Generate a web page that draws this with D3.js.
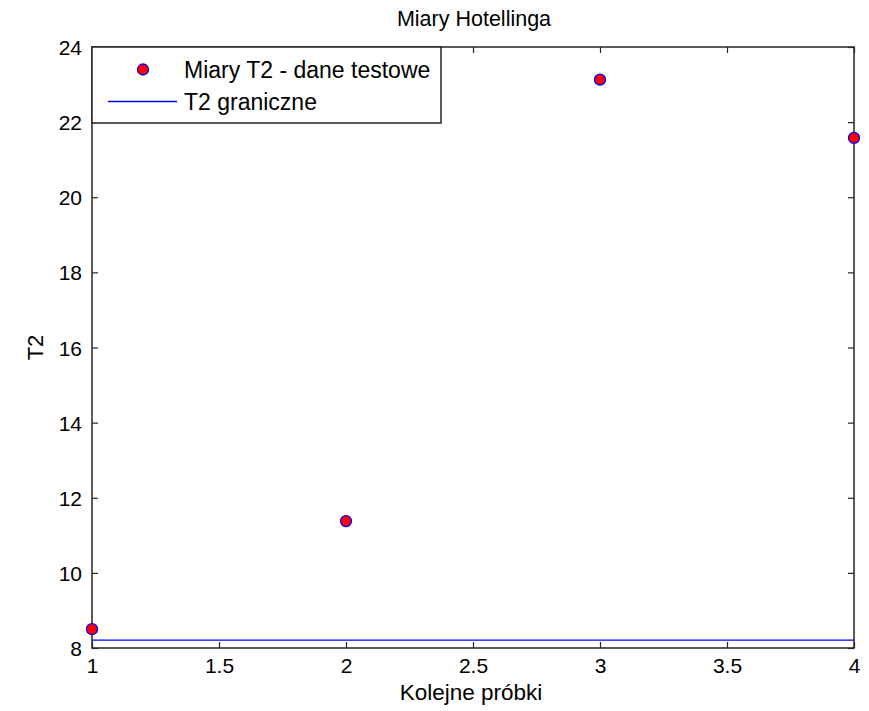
<!DOCTYPE html>
<html><head><meta charset="utf-8">
<script src="https://cdn.jsdelivr.net/npm/d3@7"></script>
<style>body{margin:0;background:#fff}svg{display:block}text{font-family:"Liberation Sans",Arial,sans-serif;fill:#000}</style>
</head><body><svg id="c" width="869" height="711"></svg>
<script>
const samples = [1, 2, 3, 4];
const t2Values = [8.5, 11.38, 23.13, 21.58];
const t2Limit = 8.21;
const xTicks = [1, 1.5, 2, 2.5, 3, 3.5, 4];
const yTicks = [8, 10, 12, 14, 16, 18, 20, 22, 24];
const legendLabels = ["Miary T2 - dane testowe", "T2 graniczne"];

const svg = d3.select("#c");
const L = 92, R = 854, T = 47, B = 648;
const x = d3.scaleLinear().domain([1, 4]).range([L, R]);
const y = d3.scaleLinear().domain([8, 24]).range([B, T]);
const tick = 6;
const fmt = d => String(d);
const FS = 21;

svg.append("rect").attr("x", 0).attr("y", 0).attr("width", 869).attr("height", 711).attr("fill", "#fff");

const gB = svg.append("g").attr("transform", `translate(0,${B})`)
  .call(d3.axisBottom(x).tickValues(xTicks).tickFormat(fmt).tickSizeInner(-tick).tickSizeOuter(0));
const gT = svg.append("g").attr("transform", `translate(0,${T})`)
  .call(d3.axisTop(x).tickValues(xTicks).tickFormat("").tickSizeInner(-tick).tickSizeOuter(0));
const gL = svg.append("g").attr("transform", `translate(${L},0)`)
  .call(d3.axisLeft(y).tickValues(yTicks).tickFormat(fmt).tickSizeInner(-tick).tickSizeOuter(0));
const gR = svg.append("g").attr("transform", `translate(${R},0)`)
  .call(d3.axisRight(y).tickValues(yTicks).tickFormat("").tickSizeInner(-tick).tickSizeOuter(0));
[gB, gT, gL, gR].forEach(g => {
  g.select(".domain").remove();
  g.selectAll("line").attr("stroke", "#262626").attr("stroke-width", 1.2);
  g.selectAll("text").attr("font-size", FS).attr("fill", "#000").style("font-family", '"Liberation Sans",Arial,sans-serif');
});
gB.selectAll("text").attr("dy", null).attr("y", 25);
gL.selectAll("text").attr("x", -10).attr("dy", "0.36em");

// threshold line
svg.append("line").attr("x1", x(1)).attr("x2", x(4)).attr("y1", y(t2Limit)).attr("y2", y(t2Limit))
  .attr("stroke", "#0000ff").attr("stroke-width", 1.3);

// box
svg.append("rect").attr("x", L).attr("y", T).attr("width", R - L).attr("height", B - T)
  .attr("fill", "none").attr("stroke", "#262626").attr("stroke-width", 1.5);

// points
svg.selectAll("circle.pt").data(samples).join("circle").attr("class", "pt")
  .attr("cx", d => x(d)).attr("cy", (d, i) => y(t2Values[i])).attr("r", 5.5)
  .attr("fill", "#ff0000").attr("stroke", "#0000ff").attr("stroke-width", 1.3);

// legend
const lg = svg.append("g");
lg.append("rect").attr("x", L).attr("y", T).attr("width", 349).attr("height", 76)
  .attr("fill", "#fff").attr("stroke", "#262626").attr("stroke-width", 1.5);
lg.append("circle").attr("cx", 143).attr("cy", 69.5).attr("r", 5.5)
  .attr("fill", "#ff0000").attr("stroke", "#0000ff").attr("stroke-width", 1.3);
lg.append("line").attr("x1", 108).attr("x2", 177).attr("y1", 101.5).attr("y2", 101.5)
  .attr("stroke", "#0000ff").attr("stroke-width", 1.3);
lg.selectAll("text").data(legendLabels).join("text")
  .attr("x", 184).attr("y", (d, i) => 77.5 + i * 32).attr("font-size", 23).text(d => d);

// titles
svg.append("text").attr("x", 474).attr("y", 26).attr("text-anchor", "middle").attr("font-size", 21.5).text("Miary Hotellinga");
svg.append("text").attr("x", 471).attr("y", 700).attr("text-anchor", "middle").attr("font-size", 22.5).text("Kolejne próbki");
svg.append("text").attr("transform", `translate(43,${(T + B) / 2}) rotate(-90)`).attr("text-anchor", "middle").attr("font-size", 22).text("T2");
</script></body></html>
